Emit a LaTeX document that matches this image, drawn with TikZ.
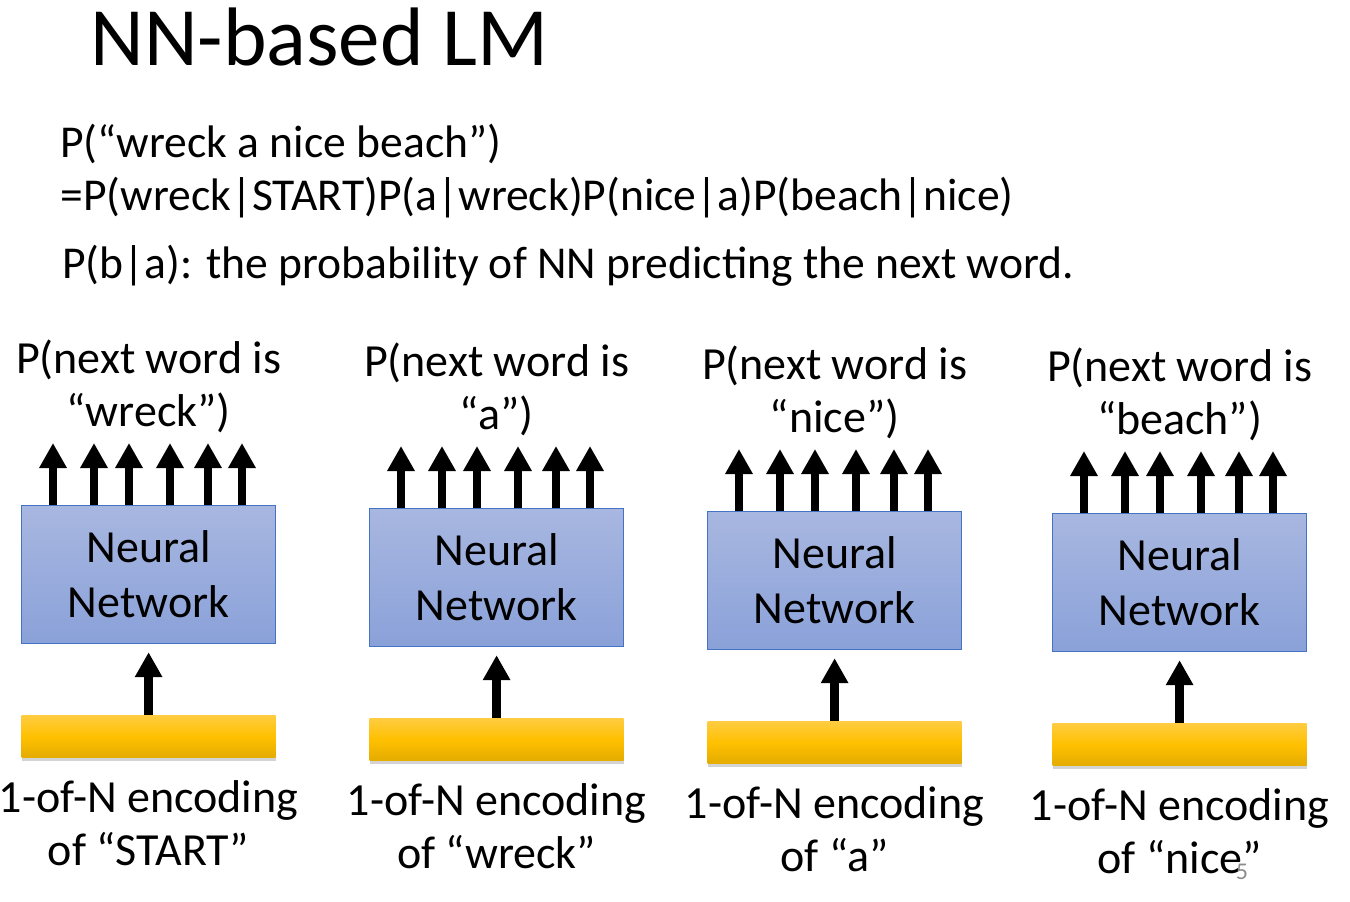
\documentclass[tikz,border=0pt]{standalone}
\usepackage{fontspec}
\setmainfont{Carlito}
\usetikzlibrary{arrows.meta,positioning,shadows}
\definecolor{nnline}{RGB}{68,114,196}
\definecolor{nntop}{RGB}{168,183,224}
\definecolor{nnbot}{RGB}{138,161,217}
\definecolor{goldtop}{RGB}{255,204,64}
\definecolor{goldmid}{RGB}{255,192,0}
\definecolor{goldbot}{RGB}{228,172,0}
\begin{document}
\begin{tikzpicture}[x=0.5pt, y=-0.5pt,
  nnbox/.style={draw=nnline, line width=0.6pt, top color=nntop, bottom color=nnbot,
    minimum width=127pt, minimum height=69pt, inner sep=0pt, align=center,
    font=\fontsize{23}{27.5}\selectfont},
  inbar/.style={top color=goldtop, bottom color=goldbot, middle color=goldmid,
    minimum width=127pt, minimum height=21pt, inner sep=0pt,
    drop shadow={opacity=0.35, shadow xshift=0pt, shadow yshift=-1.5pt}},
  lbl/.style={align=center, inner sep=0pt, font=\fontsize{23}{26.5}\selectfont},
  body/.style={anchor=base west, inner sep=0pt, font=\fontsize{22.8}{26}\selectfont},
  arr/.style={-{Triangle[width=13pt,length=12.5pt]}, line width=4.2pt}]
  \useasboundingbox (0,0) rectangle (1350,901);
  % title and formula
  \node[anchor=base west, inner sep=0pt, font=\fontsize{41.5}{48}\selectfont] (title) at (90,65) {NN-based LM};
  \node[body] (p1) at (60,157) {P(“wreck a nice beach”)};
  \node[body] (p2) at (60,210) {=P(wreck|START)P(a|wreck)P(nice|a)P(beach|nice)};
  \node[body] (p3) at (62,278) {P(b|a): the probability of NN predicting the next word.};
  % one column per time step
  \foreach \i/\x/\y/\nxt/\cur in {1/21/505/{“wreck”)}/{“START”},
      2/369/508/{“a”)}/{“wreck”}, 3/707/511/{“nice”)}/{“a”},
      4/1052/513/{“beach”)}/{“nice”}} {
    \node[nnbox, anchor=north west] (nn\i) at (\x,\y) {Neural\\Network};
    \node[inbar, below=35.5pt of nn\i] (in\i) {};
    \node[lbl, above=36pt of nn\i] (out\i) {P(next word is\\\nxt};
    \node[lbl, below=11pt of in\i] (enc\i) {1-of-N encoding\\of \cur};
    \draw[arr] (in\i.north) -- ([yshift=-4pt]nn\i.south);
    \foreach \dx in {32,73,108,149,187,221}
      \draw[arr] ([xshift=\dx*0.5pt]nn\i.north west) -- ++(0,-62);
  }
  % slide number
  \node[text=black!45, font=\fontsize{12}{14}\selectfont] (num) at (1242,872) {5};
\end{tikzpicture}
\end{document}
